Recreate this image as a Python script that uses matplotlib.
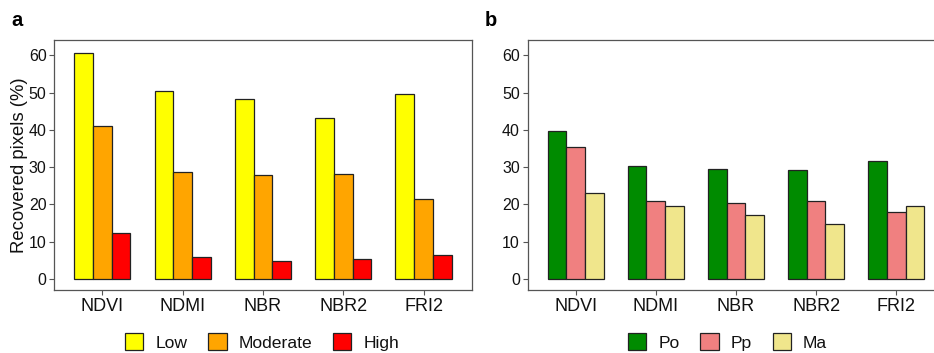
import numpy as np
import matplotlib
matplotlib.use("Agg")
import matplotlib.pyplot as plt
from matplotlib.patches import Patch

plt.rcParams['font.family'] = ['Liberation Sans', 'DejaVu Sans']

indices = ["NDVI", "NDMI", "NBR", "NBR2", "FRI2"]

# panel a: recovery by severity
sev_names = ["Low", "Moderate", "High"]
low = [60.7, 50.4, 48.3, 43.1, 49.6]
moderate = [41.1, 28.7, 27.8, 28.1, 21.5]
high = [12.4, 5.8, 4.7, 5.4, 6.3]
sev_cols = ["#FFFF00", "#FFA500", "#FF0000"]

# panel b: recovery by forest type
veg_names = ["Po", "Pp", "Ma"]
po = [39.8, 30.3, 29.6, 29.2, 31.5]
pp = [35.4, 20.9, 20.3, 20.9, 18.0]
ma = [23.0, 19.5, 17.0, 14.6, 19.5]
veg_cols = ["#008B00", "#F08080", "#F0E68C"]

spine_col = "#555555"
txt_col = "#111111"

fig = plt.figure(figsize=(9.34, 3.53), dpi=100)
ax_a = fig.add_axes([54.2/934, 63/353, 417.5/934, 250/353])
ax_b = fig.add_axes([527.5/934, 63/353, 416.9/934, 250/353])


def draw(ax, series, cols, names):
    x = np.arange(len(indices))
    w = 0.7 / 3
    for j, (vals, c) in enumerate(zip(series, cols)):
        ax.bar(x + (j - 1) * w, vals, width=w, color=c, edgecolor="#222222",
               linewidth=0.9, label=names[j])
    ax.set_xlim(-0.6, len(indices) - 0.4)
    ax.set_ylim(-3.0, 64.1)
    ax.set_xticks(x)
    ax.set_xticklabels(indices, fontsize=13)
    ax.set_yticks(np.arange(0, 61, 10))
    ax.tick_params(axis='y', labelsize=11.5)
    ax.tick_params(color=spine_col, labelcolor=txt_col, length=3.5, width=0.8, pad=2)
    for s in ax.spines.values():
        s.set_color(spine_col)
        s.set_linewidth(0.9)


draw(ax_a, [low, moderate, high], sev_cols, sev_names)
draw(ax_b, [po, pp, ma], veg_cols, veg_names)

ax_a.set_ylabel("Recovered pixels (%)", fontsize=13.3, color=txt_col, labelpad=0.5)

fig.text(11/934, 1 - 26/353, "a", fontsize=14.5, fontweight="bold", va="baseline")
fig.text(485/934, 1 - 26/353, "b", fontsize=14.5, fontweight="bold", va="baseline")

for cols, names, cx in [(sev_cols, sev_names, 262), (veg_cols, veg_names, 727.5)]:
    handles = [Patch(facecolor=c, edgecolor="#222222", linewidth=0.9) for c in cols]
    fig.legend(handles, names, loc="center", bbox_to_anchor=(cx/934, 1 - 342/353),
               ncol=3, frameon=False, fontsize=12.6, handlelength=1.05,
               handleheight=1.1, handletextpad=0.67, columnspacing=1.2,
               borderpad=0, labelcolor=txt_col)

fig.savefig("out.png", dpi=100)
